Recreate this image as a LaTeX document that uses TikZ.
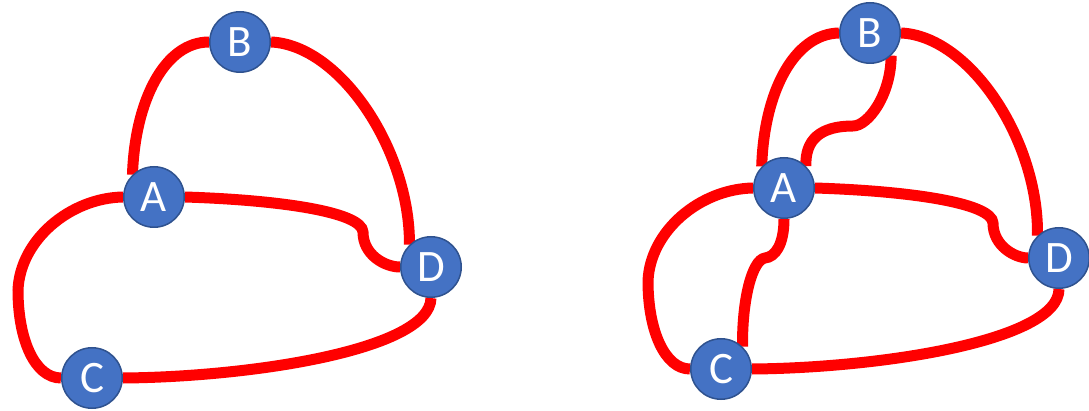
\documentclass[tikz,border=0pt]{standalone}
\usepackage{fontspec}
\setmainfont{Carlito}
\pgfdeclarelayer{bg}
\pgfsetlayers{bg,main}
\definecolor{nodeblue}{HTML}{4472C4}
\definecolor{nodeedge}{HTML}{2F528F}
\definecolor{edgered}{HTML}{FF0000}
\tikzset{
  vtx/.style={circle, fill=nodeblue, draw=nodeedge, line width=1.5pt, minimum size=60.5pt, inner sep=0pt,
    text=white, font=\fontsize{45}{45}\selectfont},
  link/.style={draw=edgered, line width=11pt, line cap=butt}
}
\begin{document}
\begin{tikzpicture}[x=1pt,y=-1pt]
\useasboundingbox (0,0) rectangle (1089,411);
% left graph
\node[vtx] (A1) at (154,197) {A};
\node[vtx] (B1) at (240,42) {B};
\node[vtx] (C1) at (92,378) {C};
\node[vtx] (D1) at (431,267) {D};
% right graph
\node[vtx] (A2) at (784,188) {A};
\node[vtx] (B2) at (870,33) {B};
\node[vtx] (C2) at (721,369) {C};
\node[vtx] (D2) at (1059,258) {D};
\begin{pgfonlayer}{bg}
% left edges
\draw[link] (A1.134) .. controls (135,100) and (165,42) .. (B1.180);
\draw[link] (B1.0) .. controls (340,45) and (410,150) .. (D1.134);
\draw[link] (A1.0) .. controls (280,200) and (362,212) .. (363,232) .. controls (363,255) and (385,267) .. (D1.180);
\draw[link] (A1.180) .. controls (70,198) and (20,240) .. (18,290) .. controls (18,340) and (35,378) .. (C1.180);
\draw[link] (C1.0) .. controls (250,377) and (430,350) .. (D1.270);
% right edges
\draw[link] (A2.136) .. controls (764,92) and (794,34) .. (B2.180);
\draw[link] (B2.-47) .. controls (891,95) and (868,126) .. (853,126) .. controls (820,126) and (805,140) .. (A2.45);
\draw[link] (B2.0) .. controls (970,36) and (1039,141) .. (D2.134);
\draw[link] (A2.0) .. controls (910,191) and (992,203) .. (993,223) .. controls (993,246) and (1015,258) .. (D2.180);
\draw[link] (A2.180) .. controls (700,189) and (650,231) .. (648,281) .. controls (648,331) and (665,369) .. (C2.180);
\draw[link] (A2.270) .. controls (784,245) and (775,257) .. (765,258) .. controls (752,260) and (742,300) .. (C2.46);
\draw[link] (C2.0) .. controls (879,368) and (1059,341) .. (D2.270);
\end{pgfonlayer}
\end{tikzpicture}
\end{document}
